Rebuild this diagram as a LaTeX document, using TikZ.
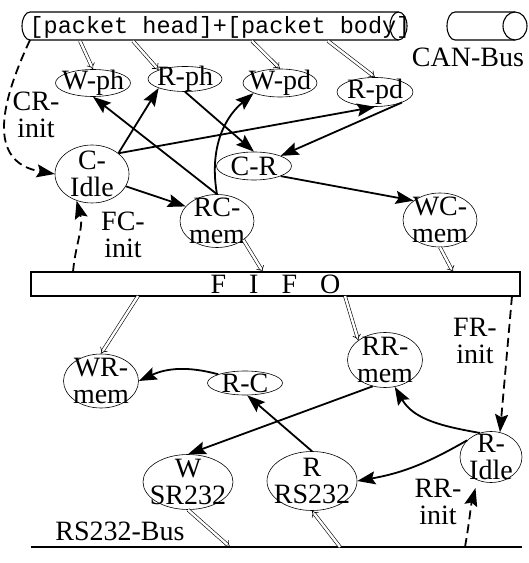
\documentclass[tikz,border=0pt]{standalone}
\usepackage{fontspec}
\setmainfont{Liberation Serif}
\setmonofont{Liberation Mono}
\usepackage{tikz}
\usetikzlibrary{arrows.meta,shapes.geometric,calc}

\begin{document}
\begin{tikzpicture}[x=1pt, y=1pt, font=\fontsize{28pt}{27pt}\selectfont,
   st/.style={ellipse,draw,line width=0.6pt,inner sep=0pt},
   tx/.style={align=center,inner sep=0pt},
   busline/.style={line width=1.1pt},
   flow/.style={line width=1.8pt,-{Stealth[length=18pt,width=13pt,inset=3pt]}},
   initflow/.style={flow,dash pattern=on 9pt off 5pt},
   io/.style={double,line width=0.6pt,double distance=2.4pt,-{Implies}}]
  \useasboundingbox (0,0) rectangle (529,563);
  \draw[busline] (398.5,551) -- (30,551) arc[start angle=90,end angle=270,x radius=8pt,y radius=14pt] -- (398.5,523);
  \draw[busline] (398.5,537) ellipse[x radius=8.5pt,y radius=14pt];
  \draw[busline] (515,551) -- (455,551) arc[start angle=90,end angle=270,x radius=8pt,y radius=14pt] -- (515,523);
  \draw[busline] (515,537) ellipse[x radius=12pt,y radius=14pt];
  \node[tx,font=\ttfamily\fontsize{23.5pt}{24pt}\selectfont] (pkt) at (220,536) {[packet head]+[packet body]};
  \node[tx] (canlbl) at (468,506) {CAN-Bus};
  \node[st,minimum width=75pt,minimum height=27pt,label={[tx]center:W-ph}] (wph) at (93,480) {};
  \node[st,minimum width=74pt,minimum height=25pt,label={[tx]center:R-ph}] (rph) at (185,484) {};
  \node[st,minimum width=74pt,minimum height=28pt,label={[tx]center:W-pd}] (wpd) at (280,480) {};
  \node[st,minimum width=76pt,minimum height=29pt,label={[tx]center:R-pd}] (rpd) at (375,471) {};
  \node[st,minimum width=75pt,minimum height=28pt,label={[tx]center:C-R}] (cr) at (254,397) {};
  \node[st,minimum width=74pt,minimum height=58pt,label={[tx]center:{C-\\Idle}}] (cidle) at (92,389) {};
  \node[st,minimum width=74pt,minimum height=53pt,label={[tx]center:{RC-\\mem}}] (rcmem) at (217,342) {};
  \node[st,minimum width=74pt,minimum height=54pt,label={[tx]center:{WC-\\mem}}] (wcmem) at (440,343) {};
  \node[draw,line width=1.1pt,minimum width=489pt,minimum height=24pt,inner sep=0pt] (fifo) at (275.5,279)
       {F\hspace{23pt}I\hspace{23pt}F\hspace{23pt}O};
  \node[st,minimum width=75pt,minimum height=54pt,label={[tx]center:{WR-\\mem}}] (wrmem) at (101,182) {};
  \node[st,minimum width=75pt,minimum height=24pt,label={[tx]center:R-C}] (rc) at (245,180) {};
  \node[st,minimum width=75pt,minimum height=55pt,label={[tx]center:{RR-\\mem}}] (rrmem) at (385,203) {};
  \node[st,minimum width=62pt,minimum height=51pt,label={[tx]center:{R-\\Idle}}] (ridle) at (491,106) {};
  \node[st,minimum width=90pt,minimum height=59pt,label={[tx]center:{R\\RS232}}] (rrs) at (312,82) {};
  \node[st,minimum width=90pt,minimum height=55pt,label={[tx]center:{W\\SR232}}] (wsr) at (188,81) {};
  \node[tx] (crinit) at (36,448) {CR-\\init};
  \node[tx] (fcinit) at (123,328) {FC-\\init};
  \node[tx] (frinit) at (475,222) {FR-\\init};
  \node[tx] (rrinit) at (438,61) {RR-\\init};
  \node[tx] (rslbl) at (120,32) {RS232-Bus};
  \coordinate (h1) at (80,522);
  \coordinate (h2) at (133,522);
  \coordinate (b1) at (252,522);
  \coordinate (b2) at (328,522);
  \coordinate (c0) at (30,523);
  \coordinate (f0) at (73,291);
  \coordinate (f1) at (263,291);
  \coordinate (f2) at (453,291);
  \coordinate (f3) at (138,267);
  \coordinate (f4) at (345,267);
  \coordinate (f5) at (512,267);
  \coordinate (rsw) at (31,16);
  \coordinate (rse) at (522,16);
  \coordinate (r1) at (230,16);
  \coordinate (r2) at (340,16);
  \coordinate (r3) at (465,16);
  \draw[line width=1.3pt] (rsw) -- (rse);
  \draw[io] (h1) -- (wph.north);
  \draw[io] (h2) -- (rph.north west);
  \draw[io] (b1) -- (wpd.north);
  \draw[io] (b2) -- (rpd.north);
  \draw[io] (rcmem.south east) -- (f1);
  \draw[io] (wcmem.south) -- (f2);
  \draw[io] (f3) -- (wrmem.north);
  \draw[io] (f4) -- (rrmem.north west);
  \draw[io] (wsr.south) -- (r1);
  \draw[io] (r2) -- (rrs.south);
  \draw[flow] (rcmem.north) -- (wph.south);
  \draw[flow] (cidle.north east) -- (rph.south west);
  \draw[flow] (rph.south) -- (cr.north);
  \draw[flow] (cidle.north east) -- (rpd.south);
  \draw[flow] (rpd.south east) -- (cr.north east);
  \draw[flow] (rcmem.north) to[out=100,in=220] (wpd.south west);
  \draw[flow] (cidle.-20) -- (rcmem.155);
  \draw[flow] (cr.south east) -- (wcmem.north west);
  \draw[flow] (rc.north west) to[bend right=20] (wrmem.east);
  \draw[flow] (rrs.north) -- (rc.-80);
  \draw[flow] (rrmem.-115) -- (wsr.north);
  \draw[flow] (ridle.115) to[out=170,in=-60] (rrmem.-70);
  \draw[flow] (ridle.145) to[out=210,in=10] (rrs.east);
  \draw[initflow] (c0) to[out=245,in=170,looseness=1.3] (cidle.west);
  \draw[initflow] (f0) to[out=85,in=-75] (cidle.-120);
  \draw[initflow] (f5) -- (ridle.70);
  \draw[initflow,shorten >=8pt] (r3) to[out=80,in=-105] (ridle.-120);
\end{tikzpicture}
\end{document}
